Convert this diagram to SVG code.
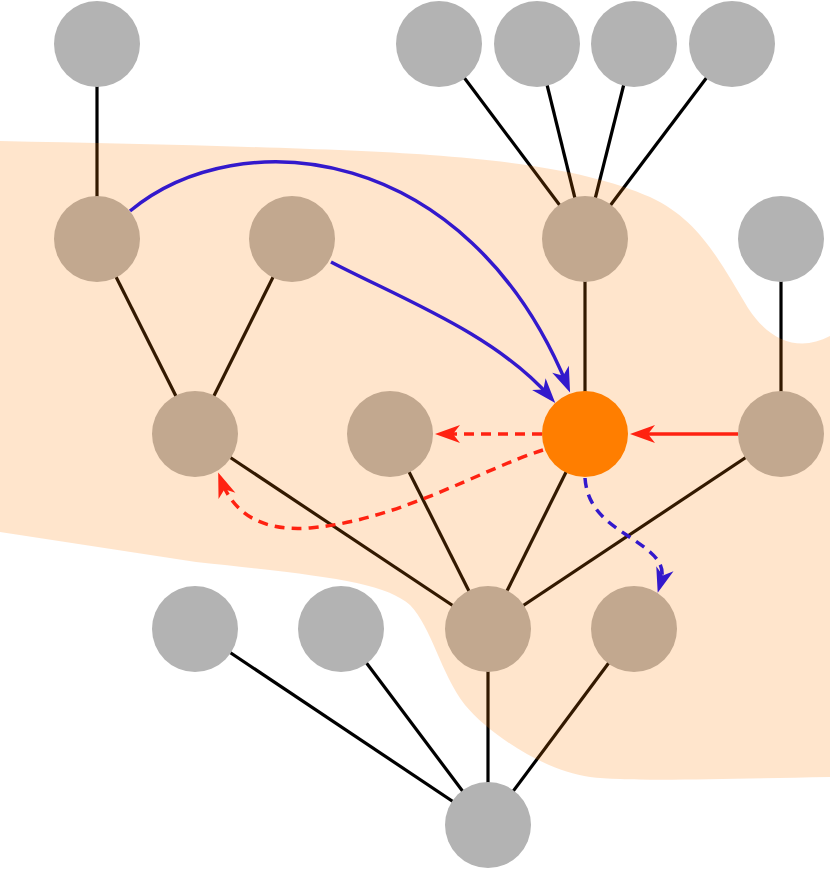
<svg xmlns="http://www.w3.org/2000/svg" width="830" height="869" viewBox="0 0 830 869">
<style>
.edge{stroke:#000;stroke-width:3.2;fill:none}
.gray{fill:#b3b3b3}
.hot{fill:#ff7f00}
.blue{stroke:#3319cc;stroke-width:3.5;fill:none}
.red{stroke:#ff2211;stroke-width:3.5;fill:none}
.dash{stroke-dasharray:10 7}
</style>
<defs>
<marker id="ab" markerUnits="userSpaceOnUse" markerWidth="40" markerHeight="40" refX="0" refY="0" orient="auto" overflow="visible"><path d="M8,0 L-17,-9 L-10,0 L-17,9 Z" fill="#3319cc"/></marker>
<marker id="ar" markerUnits="userSpaceOnUse" markerWidth="40" markerHeight="40" refX="0" refY="0" orient="auto" overflow="visible"><path d="M8,0 L-17,-9 L-10,0 L-17,9 Z" fill="#ff2211"/></marker>
</defs>
<rect width="830" height="869" fill="#fff"/>
<g id="connectors">
<line class="edge" x1="97" y1="44" x2="97" y2="239"/>
<line class="edge" x1="439" y1="44" x2="585" y2="239"/>
<line class="edge" x1="537" y1="44" x2="585" y2="239"/>
<line class="edge" x1="634" y1="44" x2="585" y2="239"/>
<line class="edge" x1="732" y1="44" x2="585" y2="239"/>
<line class="edge" x1="97" y1="239" x2="195" y2="434"/>
<line class="edge" x1="292" y1="239" x2="195" y2="434"/>
<line class="edge" x1="585" y1="239" x2="585" y2="434"/>
<line class="edge" x1="781" y1="239" x2="781" y2="434"/>
<line class="edge" x1="195" y1="434" x2="488" y2="629"/>
<line class="edge" x1="390" y1="434" x2="488" y2="629"/>
<line class="edge" x1="585" y1="434" x2="488" y2="629"/>
<line class="edge" x1="781" y1="434" x2="488" y2="629"/>
<line class="edge" x1="634" y1="629" x2="488" y2="825"/>
<line class="edge" x1="488" y1="629" x2="488" y2="825"/>
<line class="edge" x1="341" y1="629" x2="488" y2="825"/>
<line class="edge" x1="195" y1="629" x2="488" y2="825"/>
</g>
<g id="n1"><circle class="gray" cx="97" cy="44" r="43"/></g>
<g id="n2"><circle class="gray" cx="439" cy="44" r="43"/></g>
<g id="n3"><circle class="gray" cx="537" cy="44" r="43"/></g>
<g id="n4"><circle class="gray" cx="634" cy="44" r="43"/></g>
<g id="n5"><circle class="gray" cx="732" cy="44" r="43"/></g>
<g id="n6"><circle class="gray" cx="97" cy="239" r="43"/></g>
<g id="n7"><circle class="gray" cx="292" cy="239" r="43"/></g>
<g id="n8"><circle class="gray" cx="585" cy="239" r="43"/></g>
<g id="n9"><circle class="gray" cx="781" cy="239" r="43"/></g>
<g id="n10"><circle class="gray" cx="195" cy="434" r="43"/></g>
<g id="n11"><circle class="gray" cx="390" cy="434" r="43"/></g>
<g id="n12"><circle class="hot" cx="585" cy="434" r="43"/></g>
<g id="n13"><circle class="gray" cx="781" cy="434" r="43"/></g>
<g id="n14"><circle class="gray" cx="195" cy="629" r="43"/></g>
<g id="n15"><circle class="gray" cx="341" cy="629" r="43"/></g>
<g id="n16"><circle class="gray" cx="488" cy="629" r="43"/></g>
<g id="n17"><circle class="gray" cx="634" cy="629" r="43"/></g>
<g id="n18"><circle class="gray" cx="488" cy="825" r="43"/></g>
<path id="region" fill="#ff7f00" fill-opacity="0.2" d="M0,141 C150,144 330,148 430,155 C530,162 600,175 650,197 C700,220 720,262 748,308 C770,342 800,352 830,336 L830,777 C720,779 630,782 590,777 C545,771 490,735 465,705 C440,672 432,628 410,605 C385,582 320,575 196,562 L0,532 Z"/>
<g id="arrows">
<path class="blue" d="M130,211 C240,120 467,143 567,385" marker-end="url(#ab)"/>
<path class="blue" d="M331,262 C400,298 495,334 550,397" marker-end="url(#ab)"/>
<path class="blue dash" d="M585,478 C588,520 625,530 650,552 C665,565 663,575 660,585" marker-end="url(#ab)"/>
<path class="red" d="M738,434 L638,434" marker-end="url(#ar)"/>
<path class="red dash" d="M542,434 L443,434" marker-end="url(#ar)"/>
<path class="red dash" d="M543,450 C480,470 400,520 310,528 C260,532 233,512 221,480" marker-end="url(#ar)"/>
</g>
</svg>
